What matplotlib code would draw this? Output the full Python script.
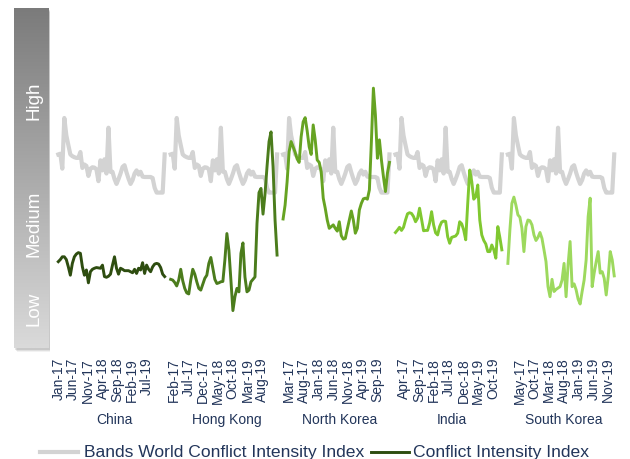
import matplotlib
matplotlib.use("Agg")
import matplotlib.pyplot as plt
import numpy as np
from matplotlib.lines import Line2D
from matplotlib.colors import LinearSegmentedColormap
import matplotlib.transforms as mtransforms

plt.rcParams['font.family'] = ['Liberation Sans', 'DejaVu Sans']

countries = ["China", "Hong Kong", "North Korea", "India", "South Korea"]

# Bands World Conflict Intensity Index (same series repeated per country)
bands_index = [57.8, 58.0, 53.7, 68.3, 63.3, 60.5, 57.8, 57.3, 57.0, 56.8,
               56.8, 58.5, 53.9, 54.9, 54.5, 51.6, 53.7, 54.1, 54.0, 53.5,
               50.1, 56.1, 53.2, 56.4, 52.3, 65.5, 52.8, 52.8, 50.7, 49.3,
               50.7, 52.3, 54.2, 54.7, 52.6, 50.8, 49.3, 50.4, 52.3, 53.2,
               52.0, 52.8, 51.4, 51.3, 51.3, 51.3, 51.3, 51.0, 48.2, 46.8,
               46.8, 46.8, 46.8, 57.8]

china = [26.9, 27.5, 28.3, 28.3, 27.5, 25.4, 23.0, 26.4, 28.3, 29.1,
         29.5, 29.3, 25.4, 23.0, 24.5, 20.8, 24.0, 24.7, 25.0, 25.2,
         25.1, 25.0, 25.9, 22.6, 22.4, 22.7, 23.3, 25.9, 28.3, 25.0,
         23.3, 25.0, 24.7, 24.3, 24.3, 24.3, 24.0, 23.7, 24.7, 23.5,
         25.0, 24.5, 26.6, 23.5, 25.9, 24.7, 24.0, 25.4, 26.2, 26.4,
         26.2, 25.2, 23.3, 22.6]

hong_kong = [21.8, 21.6, 20.9, 19.9, 21.6, 24.7, 21.4, 19.2, 17.9, 17.6,
             21.6, 24.7, 23.3, 21.1, 19.2, 18.7, 20.4, 22.1, 23.0, 26.4,
             28.1, 25.0, 21.8, 20.6, 20.8, 21.1, 21.2, 27.4, 35.0, 30.2,
             21.6, 12.8, 16.8, 19.2, 18.2, 29.3, 32.3, 22.5, 18.2, 18.7,
             21.1, 21.8, 22.5, 37.9, 46.8, 48.0, 40.6, 46.4, 54.3, 61.5,
             64.3, 54.3, 38.9, 28.8]

north_korea = [39.2, 43.2, 49.9, 58.6, 61.5, 60.0, 58.4, 56.5, 55.5, 62.9,
               67.2, 68.4, 64.6, 60.0, 57.8, 66.3, 62.0, 56.2, 55.5, 52.8,
               45.2, 42.3, 38.9, 36.5, 37.0, 37.5, 36.5, 35.7, 38.4, 34.4,
               33.4, 33.6, 36.3, 38.9, 41.5, 38.9, 35.1, 36.5, 41.8, 43.7,
               45.0, 45.2, 44.9, 47.6, 61.5, 76.9, 69.2, 56.7, 62.0, 56.2,
               51.4, 47.1, 52.4, 55.5]

india = [35.3, 36.0, 36.8, 35.9, 36.8, 38.9, 40.7, 41.0, 40.8, 39.9,
         38.4, 39.4, 42.3, 39.1, 35.8, 35.9, 35.9, 38.0, 41.3, 37.5,
         35.2, 34.6, 37.0, 38.3, 38.6, 38.5, 34.1, 32.2, 33.9, 34.1,
         34.3, 35.1, 38.4, 37.8, 36.0, 33.2, 43.7, 53.3, 50.0, 44.9,
         45.6, 49.0, 38.9, 34.6, 33.0, 32.0, 29.8, 29.8, 31.7, 30.3,
         27.9, 37.0, 33.9, 30.3]

south_korea = [26.4, 36.0, 43.7, 45.5, 43.2, 40.4, 39.7, 36.5, 29.8, 37.0,
               38.9, 38.7, 37.5, 34.6, 33.0, 33.9, 35.3, 33.6, 30.3, 26.9,
               19.7, 16.8, 21.8, 18.3, 18.9, 19.3, 19.7, 21.6, 26.4, 16.8,
               26.0, 32.7, 19.7, 20.5, 18.8, 16.1, 14.7, 18.3, 21.6, 27.4,
               39.9, 45.2, 19.7, 23.6, 26.9, 29.8, 23.6, 24.0, 22.1, 17.3,
               22.6, 29.8, 27.4, 22.8]

series = [china, hong_kong, north_korea, india, south_korea]

tick_labels = [
    ["Jan-17", "Jun-17", "Nov-17", "Apr-18", "Sep-18", "Feb-19", "Jul-19"],
    ["Feb-17", "Jul-17", "Dec-17", "May-18", "Oct-18", "Mar-19", "Aug-19"],
    ["Mar-17", "Aug-17", "Jan-18", "Jun-18", "Nov-18", "Apr-19", "Sep-19"],
    ["Apr-17", "Sep-17", "Feb-18", "Jul-18", "Dec-18", "May-19", "Oct-19"],
    ["May-17", "Oct-17", "Mar-18", "Aug-18", "Jan-19", "Jun-19", "Nov-19"],
]
tick_month_offsets = [
    [0, 5, 10, 15, 20, 25, 30],
    [1, 6, 11, 16, 21, 26, 31],
    [2, 7, 12, 17, 22, 27, 32],
    [3, 8, 13, 18, 23, 28, 33],
    [4, 9, 14, 19, 24, 29, 34],
]

green_colors = ["#2e4d10", "#4b7c1c", "#66a322", "#80c830", "#9dd95e"]
grey_color = "#d3d3d3"
text_color = "#22355a"

W, H = 630, 459
fig = plt.figure(figsize=(W / 100, H / 100), dpi=100)

# main plot area
px_step = 2.007
x0_px = 58.3
block = 56
ax = fig.add_axes([50 / W, 1 - 355 / H, 570 / W, 347 / H])
ax.set_xlim((50 - x0_px) / px_step, (620 - x0_px) / px_step)
ax.set_ylim(0, 100)
for s in ax.spines.values():
    s.set_visible(False)
ax.set_yticks([])

ticks, labels = [], []
n = len(bands_index)
for c, (vals, col) in enumerate(zip(series, green_colors)):
    xs = c * block + np.arange(len(bands_index))
    ax.plot(xs, bands_index, color=grey_color, lw=3.0, solid_joinstyle='round', zorder=1)
    xg = c * block + np.arange(len(vals))
    ax.plot(xg, vals, color=col, lw=2.1, solid_joinstyle='round', zorder=2)
    for m, lab in zip(tick_month_offsets[c], tick_labels[c]):
        ticks.append(c * block + m * (n - 1) / 36)
        labels.append(lab)

ax.set_xticks(ticks)
ax.set_xticklabels(labels, rotation=90, fontsize=10, color=text_color)
ax.tick_params(axis='x', length=0, pad=2)

# country labels
trans = mtransforms.blended_transform_factory(ax.transData, fig.transFigure)
for c, name in enumerate(countries):
    ax.text(c * block + (n - 1) / 2 + 1.5, 1 - 420 / H, name, transform=trans,
            ha='center', va='center', fontsize=10, color=text_color)

# gradient bar with soft shadow
for i, a in enumerate([0.10, 0.08, 0.05]):
    fig.add_artist(plt.Rectangle(((15 + i) / W, 1 - (350 + i) / H), 35 / W, 340 / H,
                                 transform=fig.transFigure, color='black', alpha=a,
                                 lw=0, zorder=0))
gax = fig.add_axes([14 / W, 1 - 348 / H, 35 / W, 340 / H])
cmap = LinearSegmentedColormap.from_list("g", ["#7b7b7b", "#dadada"])
grad = np.linspace(0, 1, 256).reshape(-1, 1)
gax.imshow(grad, aspect='auto', cmap=cmap, extent=[0, 1, 0, 1], origin='upper')
gax.set_xlim(0, 1)
gax.set_ylim(0, 1)
gax.axis('off')
for label, ypx in [("High", 101), ("Medium", 224), ("Low", 309)]:
    fig.text(34 / W, 1 - ypx / H, label, rotation=90, ha='center', va='center',
             color='white', fontsize=13.5)

# legend
ly = 1 - 452 / H
fig.add_artist(Line2D([40 / W, 78 / W], [ly, ly], color=grey_color, lw=3.0))
fig.text(84 / W, ly, "Bands World Conflict Intensity Index", ha='left', va='center',
         fontsize=12.6, color=text_color)
fig.add_artist(Line2D([371 / W, 409 / W], [ly, ly], color=green_colors[0], lw=2.1))
fig.text(413 / W, ly, "Conflict Intensity Index", ha='left', va='center',
         fontsize=12.6, color=text_color)

fig.savefig("out.png", dpi=100)
